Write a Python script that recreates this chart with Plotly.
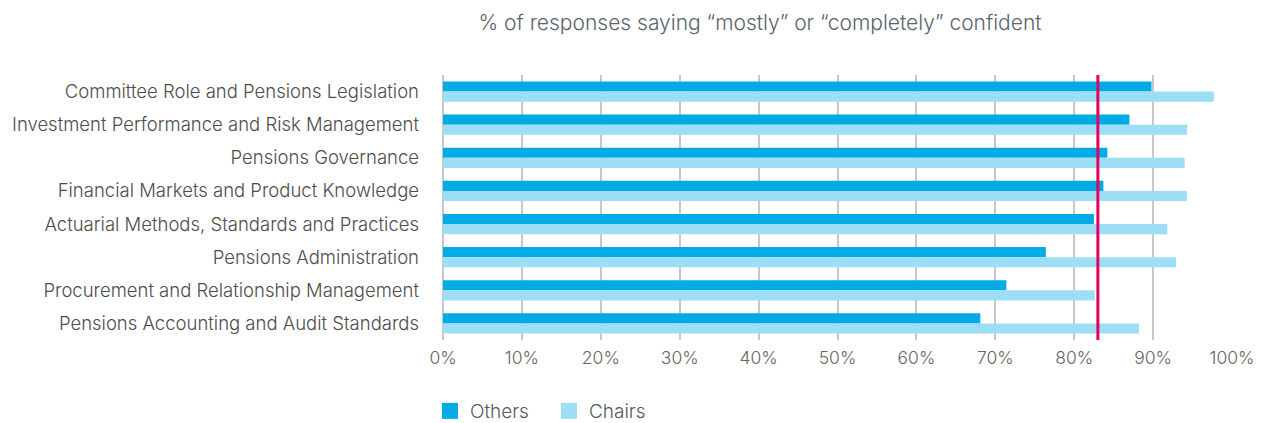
import plotly.graph_objects as go

categories = [
    "Committee Role and Pensions Legislation",
    "Investment Performance and Risk Management",
    "Pensions Governance",
    "Financial Markets and Product Knowledge",
    "Actuarial Methods, Standards and Practices",
    "Pensions Administration",
    "Procurement and Relationship Management",
    "Pensions Accounting and Audit Standards",
]
others = [89.8, 87.0, 84.2, 83.7, 82.5, 76.4, 71.4, 68.1]
chairs = [97.7, 94.3, 94.0, 94.3, 91.8, 92.9, 82.6, 88.2]
reference_line = 83.0
tick_vals = [0, 10, 20, 30, 40, 50, 60, 70, 80, 90, 100]
tick_text = [f"{v}%" for v in tick_vals]

FONT = "Inter"
C_OTHERS = "#00ABE6"
C_CHAIRS = "#9CDEF6"

fig = go.Figure()
fig.add_trace(go.Bar(y=categories, x=others, name="Others", orientation="h",
                     marker=dict(color=C_OTHERS, line=dict(width=0)), showlegend=False))
fig.add_trace(go.Bar(y=categories, x=chairs, name="Chairs", orientation="h",
                     marker=dict(color=C_CHAIRS, line=dict(width=0)), showlegend=False))
# legend-only entries with larger square swatches
fig.add_trace(go.Scatter(x=[None], y=[None], mode="markers", name="Others",
                         marker=dict(symbol="square", size=16, color=C_OTHERS)))
fig.add_trace(go.Scatter(x=[None], y=[None], mode="markers", name="Chairs",
                         marker=dict(symbol="square", size=16, color=C_CHAIRS)))

fig.add_shape(type="line", xref="x", yref="paper", x0=reference_line, x1=reference_line,
              y0=0, y1=1, line=dict(color="#E6005C", width=3), layer="above")

fig.update_layout(
    width=1268, height=423,
    margin=dict(l=435, r=44, t=67, b=91, autoexpand=False),
    paper_bgcolor="white", plot_bgcolor="white",
    barmode="group", bargap=0.39, bargroupgap=0,
    font=dict(family=FONT, color="#4d4d4d"),
    title=dict(text="% of responses saying “mostly” or “completely” confident",
               x=752 / 1268, xanchor="center", xref="container",
               y=1 - 14.5 / 423, yref="container", yanchor="middle",
               font=dict(family=FONT, size=21, color="#5a636d", weight=300)),
    showlegend=True,
    legend=dict(orientation="h", x=-0.0165, xanchor="left", y=-0.268, yanchor="middle",
                font=dict(family=FONT, size=19, color="#505a64", weight=300),
                itemsizing="trace", entrywidth=74, entrywidthmode="pixels",
                traceorder="normal"),
    xaxis=dict(range=[0, 100], tickvals=tick_vals, ticktext=tick_text,
               showgrid=True, gridcolor="#C8C8C8", gridwidth=1.5,
               zeroline=True, zerolinecolor="#C8C8C8", zerolinewidth=1.5,
               showline=False, ticks="", fixedrange=True, ticklabelstandoff=5,
               tickfont=dict(family=FONT, size=17.5, color="#666666", weight=300)),
    yaxis=dict(autorange="reversed", showgrid=False, zeroline=False, ticks="",
               ticklabelstandoff=23, fixedrange=True,
               tickfont=dict(family=FONT, size=18.5, color="#4d4d4d", weight=300)),
)

fig.write_html("out.html")
